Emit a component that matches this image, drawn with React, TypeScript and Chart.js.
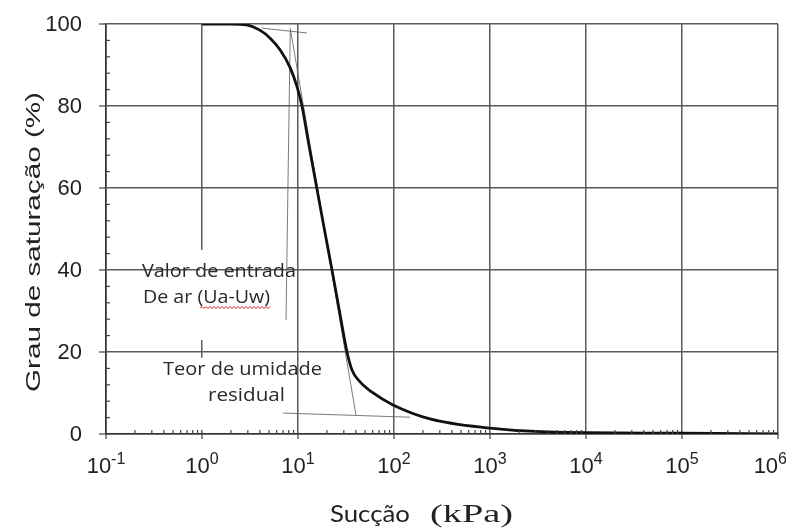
import React, { useEffect, useRef } from "react";
import { Chart, registerables } from "chart.js";

Chart.register(...registerables);

// Soil-water retention curve: degree of saturation vs. suction (log scale)
const SUCTION_KPA = [1, 2, 2.9, 4, 5.1, 6.5, 8.3, 9.8, 11, 13.1, 15.7, 18.8, 22.6, 27, 32.4, 36.5, 44.3, 59, 97.7, 237, 930, 3900, 1e5, 1e6];
const SATURATION_PCT = [100, 100, 99.8, 98.5, 96.6, 93.7, 89.3, 84.6, 80, 70, 60, 50, 40, 30, 20, 15.6, 12.7, 10.2, 7.1, 3.7, 1.5, 0.5, 0.2, 0];

// Construction lines (suction kPa, saturation %)
const TOP_TANGENT_X = [4.2, 12.4];
const TOP_TANGENT_Y = [99.0, 97.8];
const AIR_ENTRY_X = [8.3, 7.5];
const AIR_ENTRY_Y = [98.5, 27.8];
const SLOPE_TANGENT_X = [8.3, 40.2];
const SLOPE_TANGENT_Y = [99.0, 4.6];
const RESIDUAL_X = [7.0, 147];
const RESIDUAL_Y = [5.1, 4.1];

const X_DECADES = [-1, 0, 1, 2, 3, 4, 5, 6];
const Y_TICKS = [0, 20, 40, 60, 80, 100];

const AIR_ENTRY_LABEL = ["Valor de entrada", "De ar (Ua-Uw)"];
const RESIDUAL_LABEL = ["Teor de umidade", "residual"];
const X_TITLE = ["Sucção", "(kPa)"];
const Y_TITLE = "Grau de saturação (%)";

const GRID = "#5a5a5a";
const INK = "#222222";

function pairs(xs: number[], ys: number[]) {
  return xs.map((x, i) => ({ x, y: ys[i] }));
}

function fitText(
  ctx: CanvasRenderingContext2D,
  text: string,
  x: number,
  y: number,
  font: string,
  width: number
) {
  ctx.save();
  ctx.font = font;
  const w = ctx.measureText(text).width;
  ctx.translate(x, y);
  ctx.scale(width / w, 1);
  ctx.textAlign = "left";
  ctx.textBaseline = "alphabetic";
  ctx.fillText(text, 0, 0);
  ctx.restore();
}

const isDecade = (v: number) => {
  const l = Math.log10(v);
  return Math.abs(l - Math.round(l)) < 1e-6;
};

const decorations = {
  id: "retentionDecorations",
  beforeDatasetsDraw(chart: any) {
    const { ctx, scales } = chart;
    const xs = scales.x;
    const ys = scales.y;
    // blank the 10^0 grid line behind the two note blocks
    const gx = xs.getPixelForValue(1);
    ctx.save();
    ctx.fillStyle = "#ffffff";
    const spans = [
      [44.9, 22.9],
      [18.6, 1.0],
    ];
    for (const [a, b] of spans) {
      const y1 = ys.getPixelForValue(a);
      const y2 = ys.getPixelForValue(b);
      ctx.fillRect(gx - 2, y1, 4, y2 - y1);
    }
    ctx.restore();
  },
  afterDatasetsDraw(chart: any) {
    const { ctx, scales, chartArea } = chart;
    const xs = scales.x;
    const ys = scales.y;
    const bottom = chartArea.bottom;
    const left = chartArea.left;

    ctx.save();
    ctx.strokeStyle = "#444";
    ctx.lineWidth = 1.2;
    // minor x ticks (2..9 per decade)
    for (let d = -1; d < 6; d++) {
      for (let k = 2; k <= 9; k++) {
        const px = xs.getPixelForValue(k * Math.pow(10, d));
        ctx.beginPath();
        ctx.moveTo(px, bottom);
        ctx.lineTo(px, bottom - 4);
        ctx.stroke();
      }
    }
    // major x ticks
    for (const d of X_DECADES) {
      const px = xs.getPixelForValue(Math.pow(10, d));
      ctx.beginPath();
      ctx.moveTo(px, bottom);
      ctx.lineTo(px, bottom + 5);
      ctx.stroke();
    }
    // minor y ticks every 4 %
    for (let v = 4; v < 100; v += 4) {
      if (v % 20 === 0) continue;
      const py = ys.getPixelForValue(v);
      ctx.beginPath();
      ctx.moveTo(left, py);
      ctx.lineTo(left + 4, py);
      ctx.stroke();
    }
    // major y ticks
    for (const v of Y_TICKS) {
      const py = ys.getPixelForValue(v);
      ctx.beginPath();
      ctx.moveTo(left - 7, py);
      ctx.lineTo(left, py);
      ctx.stroke();
    }
    ctx.restore();

    // y tick labels
    ctx.save();
    ctx.fillStyle = INK;
    ctx.font = '22px "Liberation Sans", Arial, sans-serif';
    ctx.textAlign = "right";
    ctx.textBaseline = "middle";
    for (const v of Y_TICKS) {
      ctx.fillText(String(v), left - 24, ys.getPixelForValue(v) + 1);
    }
    ctx.restore();

    // x tick labels: 10 with a raised exponent
    ctx.save();
    ctx.fillStyle = INK;
    ctx.textBaseline = "alphabetic";
    ctx.textAlign = "left";
    const baseFont = '22px "Liberation Sans", Arial, sans-serif';
    const expFont = '16px "Liberation Sans", Arial, sans-serif';
    for (const d of X_DECADES) {
      const px = xs.getPixelForValue(Math.pow(10, d));
      const exp = d < 0 ? "-" + Math.abs(d) : String(d);
      ctx.font = baseFont;
      const wb = ctx.measureText("10").width;
      ctx.font = expFont;
      const we = ctx.measureText(exp).width;
      const x0 = Math.min(px - (wb + we) / 2, chart.width - wb - we + 1);
      ctx.font = baseFont;
      ctx.fillText("10", x0, bottom + 39);
      ctx.font = expFont;
      ctx.fillText(exp, x0 + wb, bottom + 30);
    }
    ctx.restore();

    // axis titles
    ctx.save();
    ctx.fillStyle = INK;
    fitText(ctx, X_TITLE[0], 330, 522, '24px Lato, "Open Sans", sans-serif', 80);
    fitText(ctx, X_TITLE[1], 430, 522, '25px "Liberation Serif", "Times New Roman", serif', 83);
    ctx.translate(40, 242);
    ctx.rotate(-Math.PI / 2);
    fitText(ctx, Y_TITLE, -150, 0, '21px "Liberation Sans", Arial, sans-serif', 300);
    ctx.restore();

    // notes inside the plot
    ctx.save();
    ctx.fillStyle = "#2a2a2a";
    const noteFont = '18px "Open Sans", sans-serif';
    fitText(ctx, AIR_ENTRY_LABEL[0], 142, 277, noteFont, 154);
    fitText(ctx, AIR_ENTRY_LABEL[1], 143, 303, noteFont, 127);
    fitText(ctx, RESIDUAL_LABEL[0], 163, 375, noteFont, 159);
    fitText(ctx, RESIDUAL_LABEL[1], 208, 401, noteFont, 77);
    // spell-check squiggle under "Ua-Uw"
    ctx.strokeStyle = "#d62020";
    ctx.lineWidth = 1;
    ctx.beginPath();
    let up = true;
    ctx.moveTo(200, 308);
    for (let x = 202; x <= 270; x += 2) {
      ctx.lineTo(x, up ? 306.5 : 308.5);
      up = !up;
    }
    ctx.stroke();
    ctx.restore();
  },
};

export default function App() {
  const ref = useRef<HTMLCanvasElement>(null);

  useEffect(() => {
    document.body.style.margin = "0";
    const canvas = ref.current;
    if (!canvas) return;
    const guide = (xs: number[], ys: number[]) => ({
      data: pairs(xs, ys),
      borderColor: "rgba(100,100,100,0.85)",
      borderWidth: 1,
      pointRadius: 0,
      tension: 0,
      fill: false,
    });
    const chart = new Chart(canvas, {
      type: "line",
      data: {
        datasets: [
          {
            data: pairs(SUCTION_KPA, SATURATION_PCT),
            borderColor: "#111111",
            borderWidth: 2.8,
            pointRadius: 0,
            cubicInterpolationMode: "monotone",
            fill: false,
          },
          guide(TOP_TANGENT_X, TOP_TANGENT_Y),
          guide(AIR_ENTRY_X, AIR_ENTRY_Y),
          guide(SLOPE_TANGENT_X, SLOPE_TANGENT_Y),
          guide(RESIDUAL_X, RESIDUAL_Y),
        ],
      },
      options: {
        responsive: false,
        animation: false,
        layout: { padding: { left: 106, right: 8, top: 24, bottom: 95 } },
        plugins: { legend: { display: false }, tooltip: { enabled: false } },
        scales: {
          x: {
            type: "logarithmic",
            min: 0.1,
            max: 1e6,
            ticks: { display: false },
            grid: {
              drawTicks: false,
              lineWidth: 1.5,
              color: (c: any) =>
                c.tick && isDecade(c.tick.value) ? GRID : "rgba(0,0,0,0)",
            },
            border: { display: true, color: "#333", width: 1.6 },
          },
          y: {
            min: 0,
            max: 100,
            ticks: { display: false, stepSize: 20 },
            grid: { drawTicks: false, lineWidth: 1.5, color: GRID },
            border: { display: true, color: "#333", width: 1.6 },
          },
        },
      },
      plugins: [decorations],
    } as any);
    return () => chart.destroy();
  }, []);

  return <canvas ref={ref} width={786} height={529} style={{ display: "block" }} />;
}
